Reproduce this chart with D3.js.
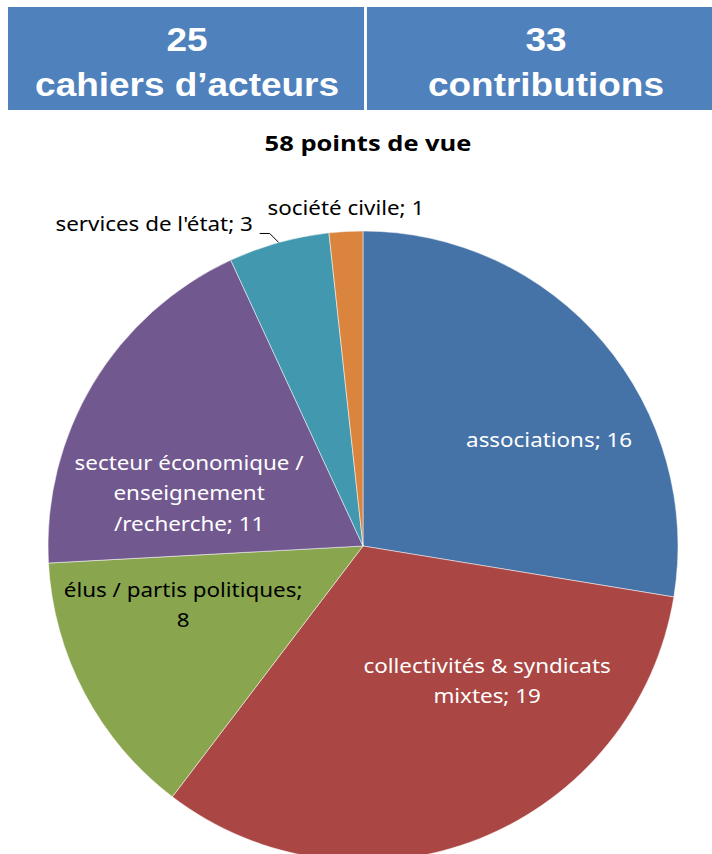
<!DOCTYPE html>
<html>
<head>
<meta charset="utf-8">
<script src="https://cdn.jsdelivr.net/npm/d3@7"></script>
<style>
  body { margin: 0; background: #fff; }
  svg { display: block; }
</style>
</head>
<body>
<svg id="chart" width="712" height="854"></svg>
<script>
// header boxes
const headerNumbers = ["25", "33"];
const headerLabels = ["cahiers d\u2019acteurs", "contributions"];

// pie data
const categories = [
  "associations",
  "collectivités & syndicats mixtes",
  "élus / partis politiques",
  "secteur économique / enseignement /recherche",
  "services de l'état",
  "société civile"
];
const values = [16, 19, 8, 11, 3, 1];
const chartTitle = "58 points de vue";

// label lines as Excel wrapped them
const labelLines = [
  ["associations; 16"],
  ["collectivités & syndicats", "mixtes; 19"],
  ["élus / partis politiques;", "8"],
  ["secteur économique /", "enseignement", "/recherche; 11"],
  ["services de l'état; 3"],
  ["société civile; 1"]
];

const colors = ["#4572a7", "#aa4643", "#89a54e", "#71588f", "#4198af", "#db843d"];
const labelColors = ["#fff", "#fff", "#000", "#fff", "#000", "#000"];

const svg = d3.select("#chart");

// ---- header ----
// two equal boxes, the right one runs a little off the page
const headerBand = d3.scaleBand()
  .domain(headerNumbers.map((d, i) => i))
  .range([8, 723])
  .paddingInner(0.008);

const hdr = svg.append("g");
hdr.selectAll("rect").data(headerNumbers).enter().append("rect")
  .attr("x", (d, i) => headerBand(i))
  .attr("y", 7)
  .attr("width", headerBand.bandwidth())
  .attr("height", 103)
  .attr("fill", "#4f81bd");

function headerText(cls, arr, y) {
  hdr.selectAll("text." + cls).data(arr).enter().append("text")
    .attr("class", cls)
    .attr("transform", (d, i) => `translate(${headerBand(i) + headerBand.bandwidth() / 2 + 1},${y}) scale(1.12,1)`)
    .attr("text-anchor", "middle")
    .attr("fill", "#fff")
    .style("font", "bold 33px 'Liberation Sans', Arial, sans-serif")
    .text(d => d);
}
headerText("num", headerNumbers, 51);
headerText("lab", headerLabels, 95.5);

// ---- title ----
svg.append("text")
  .attr("transform", "translate(368,151) scale(1.16,1)")
  .attr("text-anchor", "middle")
  .attr("fill", "#000")
  .style("font", "bold 22px 'Open Sans', sans-serif")
  .text(chartTitle);

// ---- pie ----
const cx = 363, cy = 546, radius = 315;

const pie = d3.pie().sort(null).value(d => d);
const arcs = pie(values);
const arc = d3.arc().innerRadius(0).outerRadius(radius);

const g = svg.append("g").attr("transform", `translate(${cx},${cy})`);

g.selectAll("path").data(arcs).enter().append("path")
  .attr("d", arc)
  .attr("fill", (d, i) => colors[i])
  .attr("stroke", "#fff")
  .attr("stroke-width", 0.5);

// label placement (polar, degrees from 12 o'clock clockwise; radius fraction)
const labelPlace = [
  {a: 60.3, r: 0.68},
  {a: 137.4, r: 0.582},
  {a: 251.85, r: 0.601},
  {a: 286.9, r: 0.577},
  {a: 341.1, r: 1.08, anchor: "end"},
  {a: 357.1, r: 1.074}
];
const lineH = 30.5;

const labels = g.selectAll("g.label").data(arcs).enter().append("g")
  .attr("class", "label")
  .attr("transform", (d, i) => {
    const p = labelPlace[i];
    const ang = p.a * Math.PI / 180;
    return `translate(${radius * p.r * Math.sin(ang)},${-radius * p.r * Math.cos(ang)}) scale(1.12,1)`;
  });

labels.each(function(d, i) {
  const lines = labelLines[i];
  const sel = d3.select(this);
  const y0 = -(lines.length - 1) * lineH / 2;
  sel.selectAll("text").data(lines).enter().append("text")
    .attr("x", 0)
    .attr("y", (t, k) => y0 + k * lineH)
    .attr("dy", "0.35em")
    .attr("text-anchor", labelPlace[i].anchor || "middle")
    .attr("fill", labelColors[i])
    .style("font", "20px 'Noto Sans', sans-serif")
    .text(t => t);
});

// leader line for "services de l'état"
const svcArc = arcs[4];
const midA = (svcArc.startAngle + svcArc.endAngle) / 2;
const pEdge = [radius * Math.sin(midA), -radius * Math.cos(midA)];
g.append("polyline")
  .attr("points", [[pEdge[0] - 19, pEdge[1] - 9], [pEdge[0] - 9, pEdge[1] - 9], pEdge].map(p => p.join(",")).join(" "))
  .attr("fill", "none")
  .attr("stroke", "#000")
  .attr("stroke-width", 1);
</script>
</body>
</html>
